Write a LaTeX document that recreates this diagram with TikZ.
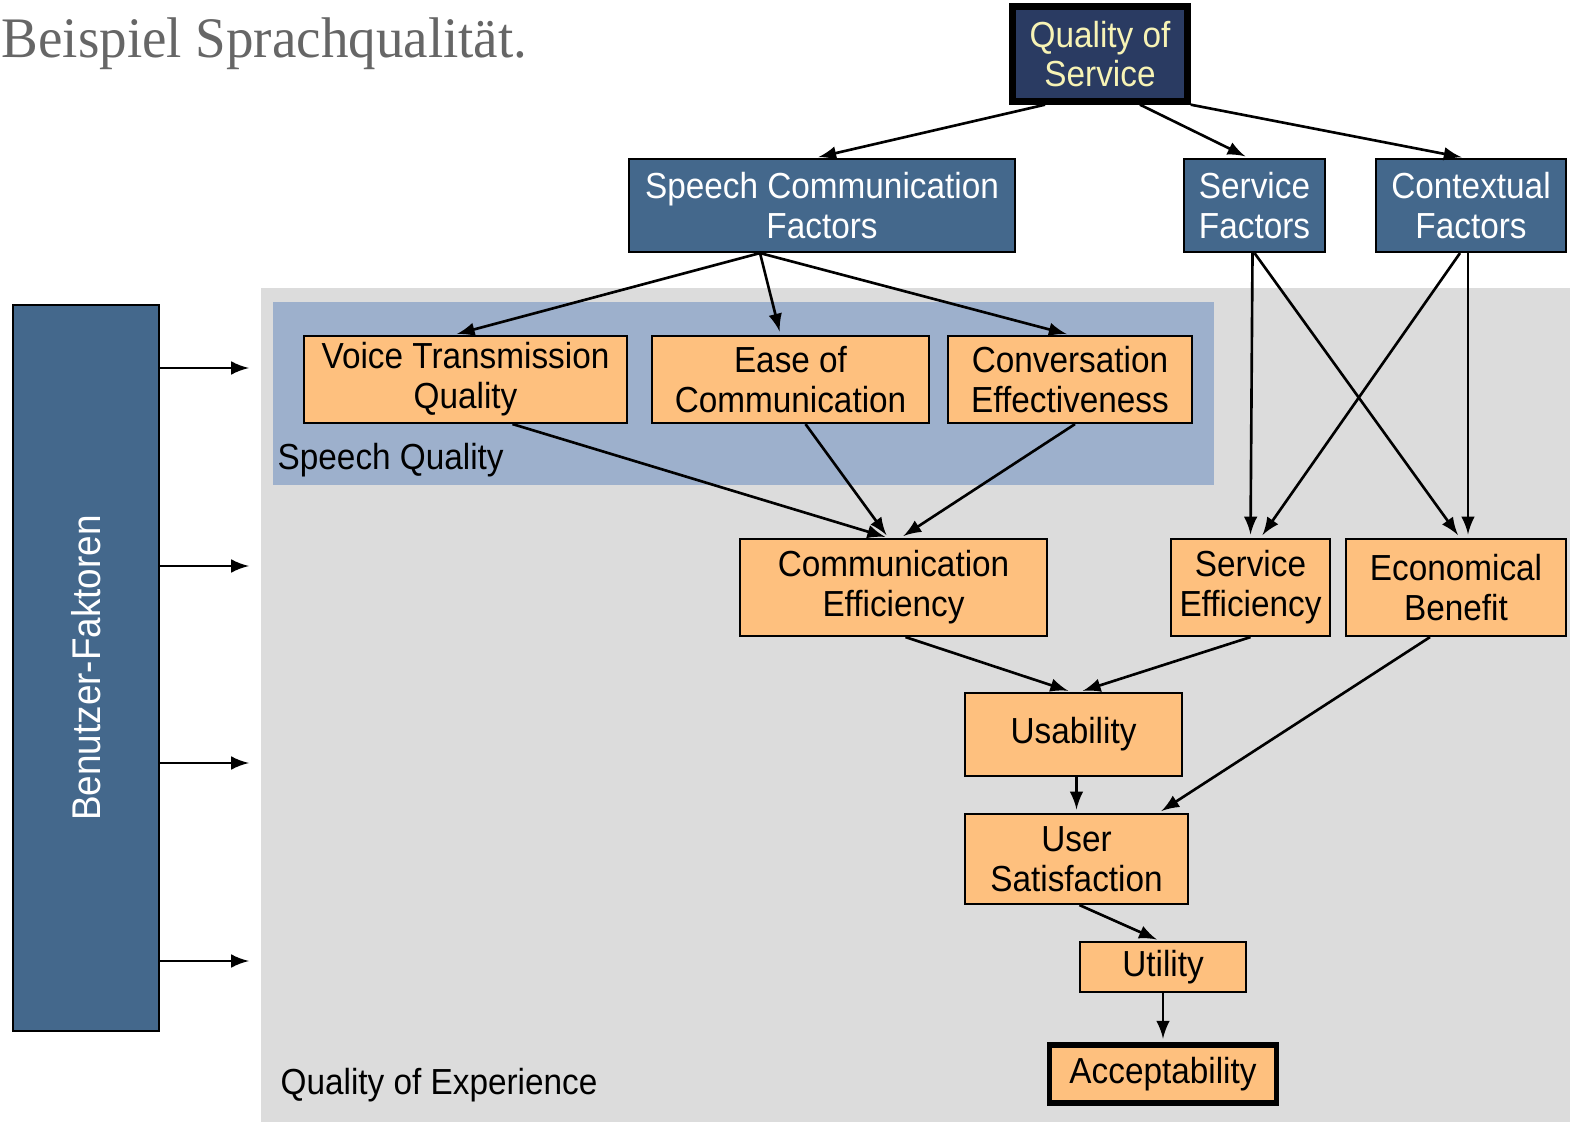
\documentclass[tikz,border=0pt]{standalone}
\usepackage{fontspec}
\setmainfont{Liberation Sans}[FakeStretch=0.92]
\newfontfamily\titlefont{Liberation Serif}[FakeStretch=0.96]
\usepackage{xcolor}
\usepackage{tikz}
\usetikzlibrary{calc}
\usetikzlibrary{arrows}
\usetikzlibrary{arrows.meta}
\usetikzlibrary{shapes}
\usetikzlibrary{positioning}
\definecolor{qosnavy}{HTML}{2A3B62}
\definecolor{qostext}{HTML}{F7F3B5}
\definecolor{factorblue}{HTML}{44688C}
\definecolor{qorange}{HTML}{FEC07E}
\definecolor{qoegrey}{HTML}{DCDCDC}
\definecolor{sqblue}{HTML}{9DB0CC}
\definecolor{titlegrey}{HTML}{666666}
\tikzset{>=latex}
\tikzstyle{factor} = [rectangle, draw = black, fill = factorblue, text = white, line width = 0.6pt, inner sep = 0, align = center]
\tikzstyle{quality} = [rectangle, draw = black, fill = qorange, line width = 0.6pt, inner sep = 0, align = center]
\tikzstyle{link} = [->, line width = 0.75pt, shorten > = 1pt]

\begin{document}
\begin{tikzpicture}[x = 0.01cm, y = -0.01cm, font = \fontsize{10.3}{11.3}\selectfont]
\useasboundingbox (0, 0) rectangle (1570, 1122);
% background areas
\fill [qoegrey] (261, 288) rectangle (1570, 1122);
\fill [sqblue] (273, 302) rectangle (1214, 485);
\node [anchor = base west, inner sep = 0, text = titlegrey, font = \titlefont\fontsize{16.3}{18}\selectfont] (title) at (1, 58) {Beispiel Sprachqualität.};

\node [rectangle, draw = black, fill = qosnavy, text = qostext, line width = 1.8pt, inner sep = 0, align = center, minimum width = 1.75cm, minimum height = 0.95cm] (qos) at (1100, 54) {Quality of\\Service};
\node [factor, minimum width = 3.86cm, minimum height = 0.93cm] (scf) at (822, 205.5) {Speech Communication\\Factors};
\node [factor, minimum width = 1.41cm, minimum height = 0.93cm] (sf) at (1254.5, 205.5) {Service\\Factors};
\node [factor, minimum width = 1.90cm, minimum height = 0.93cm] (cf) at (1471, 205.5) {Contextual\\Factors};
\node [factor, minimum width = 1.46cm, minimum height = 7.26cm] (bf) at (86, 668) {};
\node [rotate = 90, text = white, inner sep = 0, font = \fontsize{11.4}{12}\selectfont] (bftext) at (bf.center) {Benutzer-Faktoren};

\node [quality, minimum width = 3.23cm, minimum height = 0.87cm] (vtq) at (465.5, 379.5) {Voice Transmission\\Quality};
\node [quality, minimum width = 2.77cm, minimum height = 0.87cm] (eoc) at (790.5, 379.5) {Ease of\\Communication};
\node [quality, minimum width = 2.44cm, minimum height = 0.87cm] (ce) at (1070, 379.5) {Conversation\\Effectiveness};
\node [anchor = base west, inner sep = 0] (sq) at (277, 470) {Speech Quality};

\node [quality, minimum width = 3.07cm, minimum height = 0.97cm] (ceff) at (893.5, 587.5) {Communication\\Efficiency};
\node [quality, minimum width = 1.59cm, minimum height = 0.97cm] (se) at (1250.5, 587.5) {Service\\Efficiency};
\node [quality, minimum width = 2.20cm, minimum height = 0.97cm] (eb) at (1456, 587.5) {Economical\\Benefit};
\node [quality, minimum width = 2.17cm, minimum height = 0.83cm] (usab) at (1073.5, 734.5) {Usability};
\node [quality, minimum width = 2.23cm, minimum height = 0.90cm] (us) at (1076.5, 859) {User\\Satisfaction};
\node [quality, minimum width = 1.66cm, minimum height = 0.50cm] (util) at (1163, 967) {Utility};
\node [quality, line width = 1.6pt, minimum width = 2.27cm, minimum height = 0.58cm] (acc) at (1163, 1074) {Acceptability};
\node [anchor = base west, inner sep = 0] (qoe) at (280, 1094) {Quality of Experience};

\draw [link] ($(qos.south)+(-55, 0)$) to ($(scf.north)+(-7, 0)$);
\draw [link] ($(qos.south)+(40, 0)$) to ($(sf.north)+(-6, 0)$);
\draw [link] (qos.south east) to ($(cf.north)+(-6, 0)$);

\draw [link] ($(scf.south)+(-62, 0)$) to ($(vtq.north)+(-12, 0)$);
\draw [link] ($(scf.south)+(-62, 0)$) to ($(eoc.north)+(-10, 0)$);
\draw [link] ($(scf.south)+(-62, 0)$) to (ce.north);

\draw [link] ($(sf.south)+(-2, 0)$) to (se.north);
\draw [link] (sf.south) to ($(eb.north)+(4, 0)$);
\draw [link] ($(cf.south)+(-11, 0)$) to ($(se.north)+(10, 0)$);
\draw [link] ($(cf.south)+(-3, 0)$) to ($(eb.north)+(12, 0)$);

\draw [link] ($(vtq.south)+(47, 0)$) to ($(ceff.north)+(-5, 0)$);
\draw [link] ($(eoc.south)+(15, 0)$) to ($(ceff.north)+(-5, 0)$);
\draw [link] ($(ce.south)+(5, 0)$) to ($(ceff.north)+(7, 0)$);

\draw [link] ($(ceff.south)+(12, 0)$) to ($(usab.north)+(-2, 0)$);
\draw [link] (se.south) to ($(usab.north)+(6, 0)$);
\draw [link] ($(usab.south)+(3, 0)$) to (us.north);
\draw [link] ($(eb.south)+(-26, 0)$) to ($(us.north)+(82, 0)$);
\draw [link] ($(us.south)+(3, 0)$) to ($(util.north)+(-3, 0)$);
\draw [link] (util.south) to (acc.north);

\foreach \y [count = \i] in {368, 566, 763, 961} {
  \coordinate (u\i) at (249, \y);
  \draw [->, line width = 0.75pt] (bf.east |- u\i) to (u\i);
}
\end{tikzpicture}
\end{document}
